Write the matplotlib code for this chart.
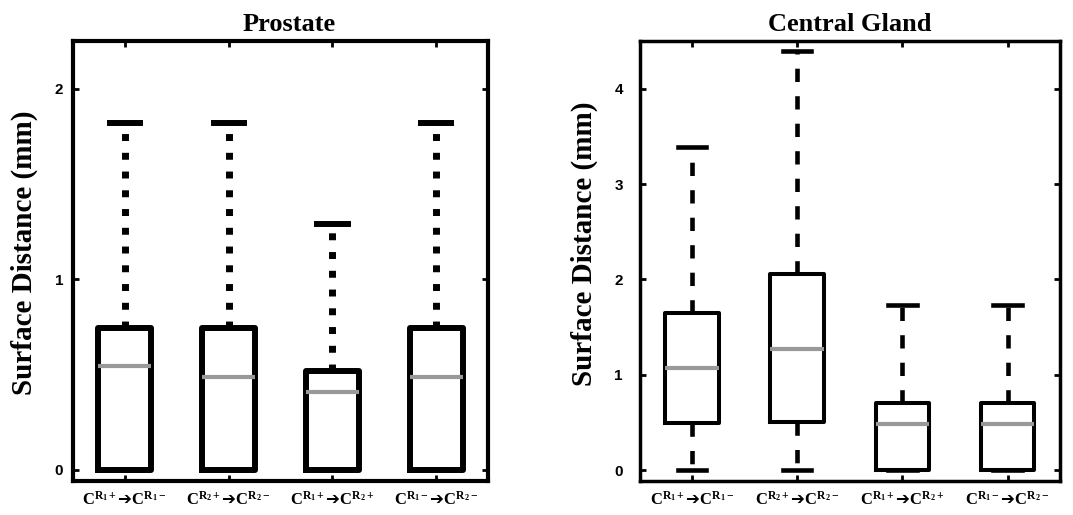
import numpy as np
import matplotlib
matplotlib.use('Agg')
import matplotlib.pyplot as plt

plt.rcParams['mathtext.fontset'] = 'custom'
plt.rcParams['mathtext.rm'] = 'Liberation Serif:bold'
plt.rcParams['mathtext.it'] = 'Liberation Serif:bold'
plt.rcParams['mathtext.bf'] = 'Liberation Serif:bold'
plt.rcParams['mathtext.sf'] = 'DejaVu Sans:bold'

# x tick labels (same for both panels)
labels = [r'C$^{\mathrm{R_1+}}\mathsf{➔}$C$^{\mathrm{R_1-}}$',
          r'C$^{\mathrm{R_2+}}\mathsf{➔}$C$^{\mathrm{R_2-}}$',
          r'C$^{\mathrm{R_1+}}\mathsf{➔}$C$^{\mathrm{R_2+}}$',
          r'C$^{\mathrm{R_1-}}\mathsf{➔}$C$^{\mathrm{R_2-}}$']

# Prostate
pro_whislo = [0, 0, 0, 0]
pro_q1 = [0, 0, 0, 0]
pro_med = [0.545, 0.49, 0.41, 0.487]
pro_q3 = [0.745, 0.745, 0.52, 0.745]
pro_whishi = [1.82, 1.82, 1.29, 1.82]

# Central Gland
cg_whislo = [0, 0, 0, 0]
cg_q1 = [0.49, 0.5, 0, 0]
cg_med = [1.07, 1.27, 0.48, 0.48]
cg_q3 = [1.65, 2.06, 0.7, 0.7]
cg_whishi = [3.39, 4.4, 1.73, 1.73]


def stats(lo, q1, med, q3, hi):
    return [dict(whislo=a, q1=b, med=c, q3=d, whishi=e, fliers=[])
            for a, b, c, d, e in zip(lo, q1, med, q3, hi)]


fig = plt.figure(figsize=(10.73, 5.15), dpi=100)
ax1 = fig.add_axes([0.068, 0.066, 0.387, 0.854])
ax2 = fig.add_axes([0.596, 0.066, 0.392, 0.854])

panels = [
    (ax1, stats(pro_whislo, pro_q1, pro_med, pro_q3, pro_whishi), 'Prostate',
     4.3, (0, (1, 1.7)), 5.0, 4.3, 0.29, (-0.058, 2.25), [0, 1, 2], 3.0,
     7, 0.52, 0.52),
    (ax2, stats(cg_whislo, cg_q1, cg_med, cg_q3, cg_whishi), 'Central Gland',
     2.9, (0, (2.9, 3.1)), 3.3, 3.3, 0.27, (-0.115, 4.5), [0, 1, 2, 3, 4], 2.5,
     12, 0.54, 0.5),
]

for ax, st, title, blw, wls, wlw, clw, cw, ylim, yt, slw, ypad, ly, tx in panels:
    ax.bxp(st, positions=[1, 2, 3, 4], widths=0.51, capwidths=cw,
           showfliers=False, patch_artist=False,
           boxprops=dict(color='black', linewidth=blw, solid_joinstyle='round'),
           whiskerprops=dict(color='black', linewidth=wlw, linestyle=wls,
                             dash_capstyle='butt'),
           capprops=dict(color='black', linewidth=clw),
           medianprops=dict(color='#999999', linewidth=3.0))
    ax.set_xlim(0.5, 4.5)
    ax.set_ylim(*ylim)
    ax.set_yticks(yt)
    ax.set_yticklabels([str(v) for v in yt], fontfamily='Liberation Sans',
                       fontweight='bold', fontsize=11)
    ax.set_xticks([1, 2, 3, 4])
    ax.set_xticklabels(labels, fontfamily='Liberation Serif',
                       fontweight='bold', fontsize=12)
    ax.tick_params(direction='in', length=4, width=2, top=True, right=True)
    ax.tick_params(axis='x', pad=7)
    ax.tick_params(axis='y', pad=ypad)
    for s in ax.spines.values():
        s.set_linewidth(slw)
    ax.set_title(title, fontfamily='Liberation Serif', fontweight='bold',
                 fontsize=19, pad=7, x=tx)
    ax.set_ylabel('Surface Distance (mm)', fontfamily='Liberation Serif',
                  fontweight='bold', fontsize=21, labelpad=12, y=ly)

fig.savefig('out.png', dpi=100)
